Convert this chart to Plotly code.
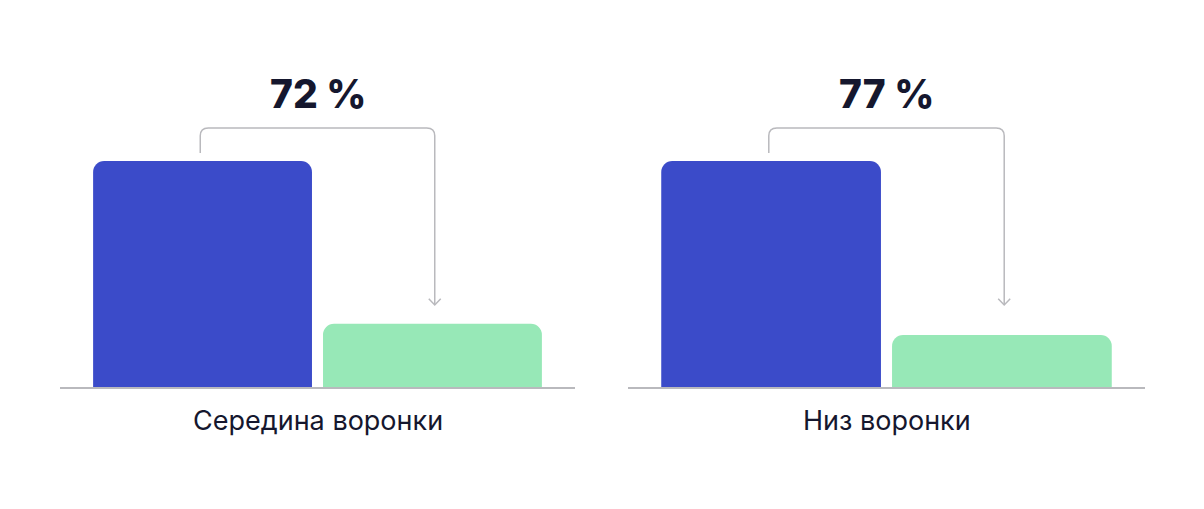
import plotly.graph_objects as go

# ---- data ----
groups = ["Середина воронки", "Низ воронки"]
stages = ["Начало", "Конец"]
top_values = [100, 100]
bottom_values = [28, 23]
pct_labels = ["72 %", "77 %"]

BLUE = "#3b4bc9"
GREEN = "#97e8b7"
GRAY = "#b9b9bd"
TEXT = "#15172e"

fig = go.Figure()

OFF = 8  # page body margin
W, H = 1204, 509
domains = [[(60 - OFF) / W, (575 - OFF) / W], [(628 - OFF) / W, (1145 - OFF) / W]]
XR = [-0.62, 1.62]
YR = [0, 153.5]

for i, g in enumerate(groups):
    xa = "x" if i == 0 else f"x{i + 1}"
    ya = "y" if i == 0 else f"y{i + 1}"
    fig.add_trace(go.Bar(
        x=[0, 1], y=[top_values[i], bottom_values[i]],
        marker=dict(color=[BLUE, GREEN], line=dict(width=0)),
        width=0.952, xaxis=xa, yaxis=ya, showlegend=False,
        hovertext=stages, hoverinfo="text+y",
    ))
    top = top_values[i]
    tip = max(bottom_values) + 8.3
    xl, xr = -0.01, 1.01
    y0 = top + 3.5
    yh = top + 14.6
    rx, ry = 0.035, 3.5
    path = (f"M {xl},{y0} L {xl},{yh - ry} Q {xl},{yh} {xl + rx},{yh} "
            f"L {xr - rx},{yh} Q {xr},{yh} {xr},{yh - ry} L {xr},{tip}")
    fig.add_shape(type="path", path=path, xref=xa, yref=ya,
                  line=dict(color=GRAY, width=1.5))
    head = f"M {xr - 0.026},{tip + 2.7} L {xr},{tip} L {xr + 0.026},{tip + 2.7}"
    fig.add_shape(type="path", path=head, xref=xa, yref=ya,
                  line=dict(color=GRAY, width=1.5))
    fig.add_annotation(x=0.5, y=yh + 15.3, xref=xa, yref=ya, text=pct_labels[i],
                       showarrow=False, yanchor="middle",
                       font=dict(family="Inter", size=39, color=TEXT, weight=800))
    fig.add_annotation(x=0.5, y=-15 / YR[1], xref=f"{xa} domain", yref=f"{ya} domain",
                       text=g, showarrow=False, yanchor="middle",
                       font=dict(family="Inter", size=27, color=TEXT))

axis_common = dict(range=XR, showgrid=False, zeroline=False, showticklabels=False,
                   ticks="", showline=True, linecolor=GRAY, linewidth=1.5, fixedrange=True)
yaxis_common = dict(range=YR, showgrid=False, zeroline=False, showticklabels=False,
                    ticks="", showline=False, fixedrange=True)

fig.update_layout(
    width=W, height=H,
    margin=dict(l=0, r=0, t=40 - OFF, b=H - (387 - OFF)),
    paper_bgcolor="white", plot_bgcolor="white",
    barcornerradius=11,
    xaxis=dict(domain=domains[0], anchor="y", **axis_common),
    yaxis=dict(anchor="x", **yaxis_common),
    xaxis2=dict(domain=domains[1], anchor="y2", **axis_common),
    yaxis2=dict(anchor="x2", **yaxis_common),
)

fig.write_html("out.html")
